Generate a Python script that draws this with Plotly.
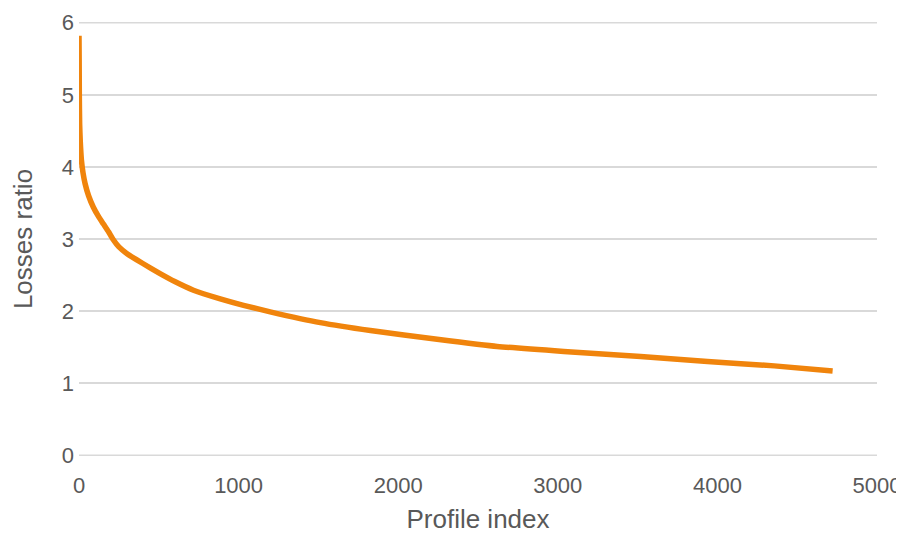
import plotly.graph_objects as go

profile_index = [0, 1, 2, 4, 8, 15, 25, 38, 60, 90, 120, 152, 185, 215, 250, 299,
                 400, 508, 600, 717, 885, 1031, 1198, 1512, 1826, 2244, 2620, 3038,
                 3519, 3938, 4356, 4722]
losses_ratio = [5.82, 5.5, 5.0, 4.6, 4.35, 4.1, 3.92, 3.77, 3.6, 3.44, 3.32, 3.21, 3.1,
                2.99, 2.89, 2.80, 2.66, 2.52, 2.41, 2.29, 2.17, 2.08, 1.99, 1.84, 1.73,
                1.61, 1.51, 1.44, 1.37, 1.30, 1.24, 1.17]

x_ticks = [0, 1000, 2000, 3000, 4000, 5000]
y_ticks = [0, 1, 2, 3, 4, 5, 6]

font_family = "Liberation Sans, Arial, sans-serif"
text_color = "#595959"
grid_color = "#D9D9D9"

fig = go.Figure(go.Scatter(
    x=profile_index, y=losses_ratio, mode="lines",
    line=dict(color="#F0840C", width=5.5, shape="spline", smoothing=0.5),
    hoverinfo="skip",
))

# gridlines at the range ends (plotly drops them at the plot edges)
for yv in (y_ticks[0], y_ticks[-1]):
    fig.add_shape(type="line", xref="paper", x0=0, x1=1, yref="y", y0=yv, y1=yv,
                  line=dict(color=grid_color, width=1.5), layer="below")

# page body has an 8px margin, so the figure is 8px smaller than the window
fig.update_layout(
    width=896, height=526,
    margin=dict(l=71, r=27, t=14, b=78, autoexpand=False),
    paper_bgcolor="white", plot_bgcolor="white",
    showlegend=False,
    font=dict(family=font_family, color=text_color, size=22),
)
fig.update_xaxes(
    range=[0, 5000], tickvals=x_ticks, showgrid=False, zeroline=False,
    showline=False, ticks="", ticklabelstandoff=14, automargin=False,
    tickfont=dict(size=22, color=text_color),
    title=dict(text="Profile index", font=dict(size=26, color=text_color), standoff=16),
)
fig.update_yaxes(
    range=[-0.01, 6.01], tickvals=y_ticks, showgrid=True, gridcolor=grid_color, gridwidth=1.5,
    zeroline=False, showline=False, ticks="", ticklabelstandoff=4, automargin=False,
    tickfont=dict(size=22, color=text_color),
    title=dict(text="Losses ratio", font=dict(size=26, color=text_color), standoff=24),
)

fig.write_html("out.html")
